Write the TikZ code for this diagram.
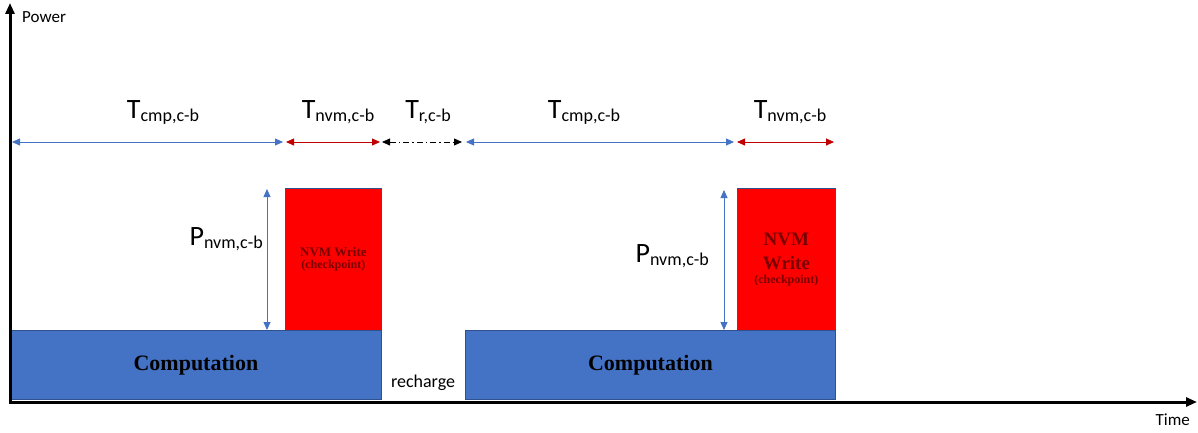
\documentclass[tikz,border=0pt]{standalone}
\usepackage{fontspec}
\setmainfont{Carlito}
\newfontfamily\timesfont{Liberation Serif}
\usetikzlibrary{arrows.meta}
\definecolor{compblue}{HTML}{4472C4}
\definecolor{compedge}{HTML}{2F528F}
\definecolor{nvmred}{HTML}{FF0000}
\definecolor{arrowred}{HTML}{C00000}
\definecolor{nvmtext}{HTML}{7A0000}
\newcommand{\symlab}[2]{#1{\fontsize{18}{18}\selectfont\raisebox{-3pt}{#2}}}
\tikzset{
  axisline/.style={line width=3pt, -{Triangle[length=11pt,width=9pt]}},
  compbox/.style={draw=compedge, fill=compblue, line width=0.8pt, anchor=south west,
                  inner sep=0pt, text=black, font=\timesfont\bfseries\fontsize{22}{24}\selectfont},
  nvmbox/.style={draw=compedge, fill=nvmred, line width=0.8pt, anchor=south west,
                 inner sep=0pt, align=center, text=nvmtext, font=\timesfont\bfseries},
  span/.style={{Triangle[length=8pt,width=7pt]}-{Triangle[length=8pt,width=7pt]}, line width=0.8pt},
  spanblue/.style={span, compblue},
  spanred/.style={span, arrowred},
  spanrest/.style={span, black, dash pattern=on 6pt off 3pt on 1.5pt off 3pt},
  timelab/.style={anchor=base, inner sep=0pt, font=\fontsize{28}{30}\selectfont},
  axislab/.style={inner sep=0pt, font=\fontsize{17}{19}\selectfont},
}
\begin{document}
\begin{tikzpicture}[x=1pt, y=1pt]
  \useasboundingbox (0,0) rectangle (1198,432);
  % --- blocks ---
  \node[compbox, minimum width=371pt, minimum height=69pt] (cmpA) at (10,32) {Computation};
  \node[compbox, minimum width=370pt, minimum height=69pt] (cmpB) at (465,32) {Computation};
  \node[nvmbox, minimum width=96pt, minimum height=142pt] (nvmA) at (285,101)
    {\fontsize{13}{15}\selectfont NVM Write\\\fontsize{12}{14}\selectfont(checkpoint)};
  \node[nvmbox, minimum width=98pt, minimum height=142pt] (nvmB) at (737,101)
    {\fontsize{19}{22}\selectfont NVM\\[9pt]\fontsize{19}{22}\selectfont Write\\[2pt]\fontsize{12}{14}\selectfont(checkpoint)};
  \node[axislab, font=\fontsize{18}{20}\selectfont] (rech) at (423,49) {recharge};

  % --- axes ---
  \coordinate (origin) at (10,30);
  \coordinate (ytop) at (10,429);
  \coordinate (xend) at (1197,30);
  \draw[axisline] ([yshift=-1.5pt]origin) -- (ytop);
  \draw[axisline] ([xshift=-1.5pt]origin) -- (xend);
  \node[axislab, anchor=west] (power) at (22,415) {Power};
  \node[axislab, anchor=east] (time) at (1190,12) {Time};

  % --- time spans ---
  \coordinate (t0) at (12,290);
  \coordinate (t1) at (283,290);
  \coordinate (t2) at (286,290);
  \coordinate (t3) at (380,290);
  \coordinate (t4) at (382,290);
  \coordinate (t5) at (462,290);
  \coordinate (t6) at (466,290);
  \coordinate (t7) at (734,290);
  \coordinate (t8) at (737,290);
  \coordinate (t9) at (834,290);
  \draw[spanblue] (t0) -- (t1);
  \draw[spanred]  (t2) -- (t3);
  \draw[spanrest] (t4) -- (t5);
  \draw[spanblue] (t6) -- (t7);
  \draw[spanred]  (t8) -- (t9);
  \node[timelab] (tcmpA) at (163,314) {\symlab{T}{cmp,c-b}};
  \node[timelab] (tnvmA) at (338,314) {\symlab{T}{nvm,c-b}};
  \node[timelab] (trest) at (428,314) {\symlab{T}{r,c-b}};
  \node[timelab] (tcmpB) at (584,314) {\symlab{T}{cmp,c-b}};
  \node[timelab] (tnvmB) at (790,314) {\symlab{T}{nvm,c-b}};

  % --- power spans ---
  \coordinate (pA0) at (267,102);
  \coordinate (pA1) at (267,243);
  \coordinate (pB0) at (724,102);
  \coordinate (pB1) at (724,242);
  \draw[spanblue] (pA0) -- (pA1);
  \draw[spanblue] (pB0) -- (pB1);
  \node[timelab, anchor=base east] (pnvmA) at (263,187) {\symlab{P}{nvm,c-b}};
  \node[timelab, anchor=base east] (pnvmB) at (709,170) {\symlab{P}{nvm,c-b}};
\end{tikzpicture}
\end{document}
